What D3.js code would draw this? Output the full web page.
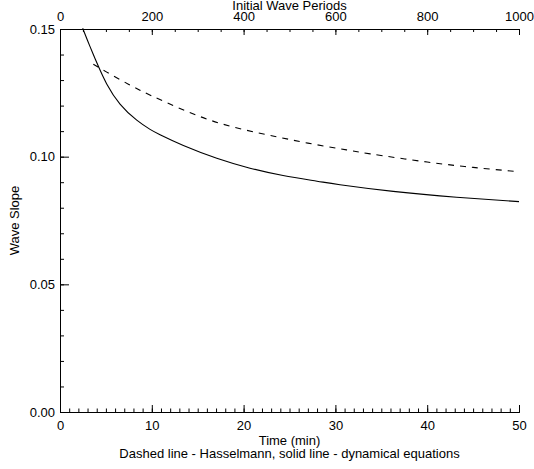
<!DOCTYPE html>
<html><head><meta charset="utf-8">
<script src="https://cdn.jsdelivr.net/npm/d3@7"></script>
<style>
body{margin:0;background:#fff;}
svg{display:block;font-family:"Liberation Sans",Arial,Helvetica,sans-serif;}
</style></head>
<body>
<svg id="c" width="534" height="469"></svg>
<script>
// Data
const dashedTime  = [3.63, 5, 7.5, 10, 13, 16.35, 20, 23.6, 27, 30.5, 33.8, 40, 45, 50];
const dashedSlope = [0.1362, 0.1333, 0.1283, 0.1238, 0.1190, 0.1143, 0.1106, 0.1078, 0.1053, 0.1031, 0.1011, 0.0979, 0.0958, 0.0941];
const solidTime   = [2.47, 3.0, 3.63, 4.18, 5.09, 6.54, 8.36, 9.81, 10.9, 13.44, 17.08, 20.7, 24.3, 28, 30.5, 36.3, 43.2, 50];
const solidSlope  = [0.1503, 0.1455, 0.1400, 0.1354, 0.1285, 0.1206, 0.1143, 0.1107, 0.1086, 0.1044, 0.0994, 0.0955, 0.0926, 0.0904, 0.0890, 0.0864, 0.0841, 0.0824];
const timeTicks   = [0, 10, 20, 30, 40, 50];
const periodTicks = [0, 200, 400, 600, 800, 1000];
const slopeTicks  = [0.00, 0.05, 0.10, 0.15];

const svg = d3.select("#c");
const x = d3.scaleLinear().domain([0, 50]).range([60, 519]);
const xTop = d3.scaleLinear().domain([0, 1000]).range([60, 519]);
const y = d3.scaleLinear().domain([0, 0.15]).range([412, 29]);

const fs = 13;
function styleAxis(g){
  g.select(".domain").attr("stroke","#000").attr("stroke-width",1);
  g.selectAll(".tick line").attr("stroke","#000");
  g.selectAll("text").attr("font-size",fs).attr("font-family","Liberation Sans, Arial, sans-serif").attr("fill","#000");
}

// minor ticks
svg.append("g").attr("transform","translate(0,412)")
  .call(d3.axisBottom(x).tickValues(d3.range(0,51,1)).tickSize(-3.5).tickFormat(""))
  .call(styleAxis);
svg.append("g").attr("transform","translate(0,29)")
  .call(d3.axisTop(xTop).tickValues(d3.range(0,1001,50)).tickSize(-3).tickFormat(""))
  .call(styleAxis);
svg.append("g").attr("transform","translate(60,0)")
  .call(d3.axisLeft(y).tickValues(d3.range(0,16,1).map(d=>d/100)).tickSize(-4).tickFormat(""))
  .call(styleAxis);

// major ticks with labels
svg.append("g").attr("transform","translate(0,412)")
  .call(d3.axisBottom(x).tickValues(timeTicks).tickSize(-7).tickPadding(9).tickFormat(d3.format("d")))
  .call(styleAxis);
svg.append("g").attr("transform","translate(0,29)")
  .call(d3.axisTop(xTop).tickValues(periodTicks).tickSize(-6).tickPadding(8).tickFormat(d3.format("d")))
  .call(styleAxis);
svg.append("g").attr("transform","translate(60,0)")
  .call(d3.axisLeft(y).tickValues(slopeTicks).tickSize(-9).tickPadding(5).tickFormat(d3.format(".2f")))
  .call(styleAxis);

// curves
const line = d3.line().curve(d3.curveNatural);
svg.append("path")
  .attr("d", line(solidTime.map((t,i)=>[x(t), y(solidSlope[i])])))
  .attr("fill","none").attr("stroke","#000").attr("stroke-width",1.1);
svg.append("path")
  .attr("d", line(dashedTime.map((t,i)=>[x(t), y(dashedSlope[i])])))
  .attr("fill","none").attr("stroke","#000").attr("stroke-width",1.1)
  .attr("stroke-dasharray","6,6");

// titles
svg.append("text").attr("x",289.5).attr("y",10).attr("text-anchor","middle")
  .attr("font-size",fs).text("Initial Wave Periods");
svg.append("text").attr("x",289.5).attr("y",445).attr("text-anchor","middle")
  .attr("font-size",fs).text("Time (min)");
svg.append("text").attr("x",289.5).attr("y",457.5).attr("text-anchor","middle")
  .attr("font-size",fs).text("Dashed line - Hasselmann, solid line - dynamical equations");
svg.append("text").attr("transform","translate(19,220.5) rotate(-90)").attr("text-anchor","middle")
  .attr("font-size",fs).text("Wave Slope");
</script>
</body></html>
